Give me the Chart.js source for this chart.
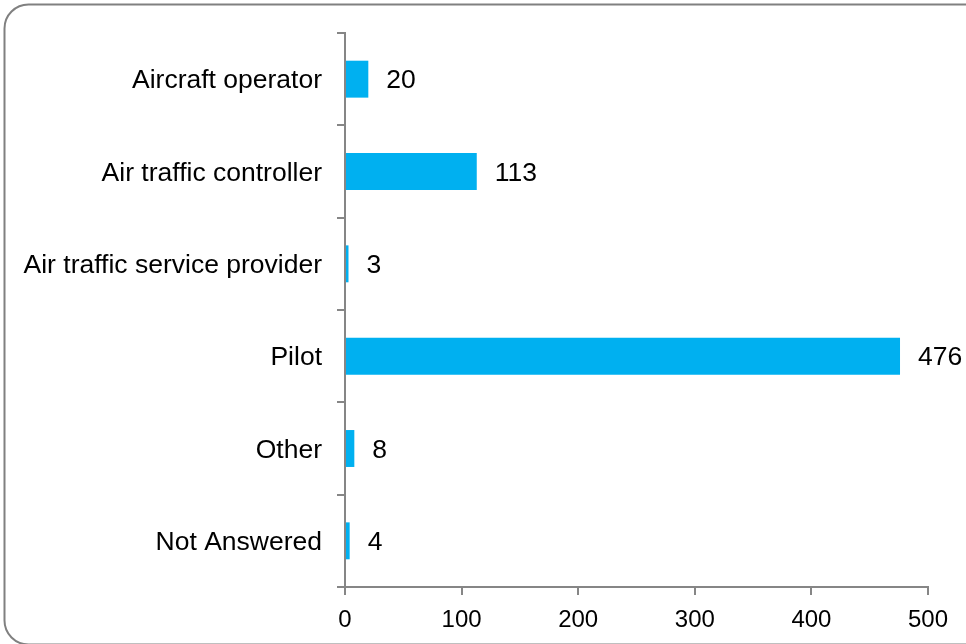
<!DOCTYPE html>
<html>
<head>
<meta charset="utf-8">
<script src="https://cdn.jsdelivr.net/npm/chart.js@4.4.1/dist/chart.umd.min.js"></script>
<style>
  html, body { margin: 0; padding: 0; background: #fff; overflow: hidden; }
  #wrap { width: 966px; height: 644px; }
</style>
</head>
<body>
<div id="wrap"><canvas id="roleChart" width="966" height="644"></canvas></div>
<script>
const roles = ['Aircraft operator', 'Air traffic controller', 'Air traffic service provider', 'Pilot', 'Other', 'Not Answered'];
const counts = [20, 113, 3, 476, 8, 4];
const xTicks = [0, 100, 200, 300, 400, 500];

const FONT = '"Liberation Sans", Arial, sans-serif';
const AXIS = '#868686';

// rounded frame around the whole chart
const framePlugin = {
  id: 'frame',
  beforeDraw(chart) {
    const ctx = chart.ctx;
    ctx.save();
    ctx.strokeStyle = '#808080';
    ctx.lineWidth = 2;
    ctx.beginPath();
    ctx.roundRect(4.5, 4.5, 985, 640, 24);
    ctx.stroke();
    ctx.restore();
  }
};

// value printed to the right of each bar
const valueLabels = {
  id: 'valueLabels',
  afterDatasetsDraw(chart) {
    const ctx = chart.ctx;
    const meta = chart.getDatasetMeta(0);
    ctx.save();
    ctx.font = '26.5px ' + FONT;
    ctx.fillStyle = '#000';
    ctx.textAlign = 'left';
    ctx.textBaseline = 'middle';
    meta.data.forEach((bar, i) => {
      ctx.fillText(String(counts[i]), bar.x + 18, bar.y + 2);
    });
    ctx.restore();
  }
};

new Chart(document.getElementById('roleChart'), {
  type: 'bar',
  data: {
    labels: roles,
    datasets: [
      {
        data: counts,
        backgroundColor: '#00b0f0',
        borderWidth: 0,
        categoryPercentage: 1,
        barPercentage: 0.4,
      },
    ],
  },
  options: {
    indexAxis: 'y',
    responsive: false,
    animation: false,
    devicePixelRatio: 1,
    layout: { padding: { top: 33, right: 38, left: 0, bottom: 0 } },
    plugins: {
      legend: { display: false },
      tooltip: { enabled: false },
    },
    scales: {
      x: {
        min: xTicks[0],
        max: xTicks[xTicks.length - 1],
        afterBuildTicks: (scale) => { scale.ticks = xTicks.map((v) => ({ value: v })); },
        afterFit: (scale) => { scale.height = 57; },
        grid: { drawOnChartArea: false, drawTicks: true, tickLength: 8, tickColor: AXIS, lineWidth: 2 },
        border: { color: AXIS, width: 2 },
        ticks: { color: '#000', font: { family: FONT, size: 24 }, padding: 11 },
      },
      y: {
        afterFit: (scale) => { scale.width = 345; },
        grid: { offset: true, drawOnChartArea: false, drawTicks: true, tickLength: 8, tickColor: AXIS, lineWidth: 2 },
        border: { color: AXIS, width: 2 },
        ticks: { color: '#000', font: { family: FONT, size: 26.5 }, padding: 15, labelOffset: 2 },
      },
    },
  },
  plugins: [framePlugin, valueLabels],
});
</script>
</body>
</html>
